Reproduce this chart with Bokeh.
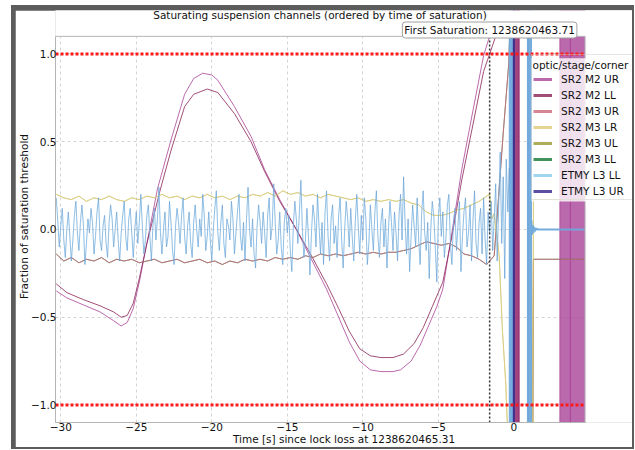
from bokeh.plotting import figure
from bokeh.layouts import column
from bokeh.models import (Range1d, Label, Legend, LegendItem,
                          CustomJSTickFormatter, FixedTicker)
from bokeh.embed import file_html
from bokeh.resources import INLINE

FONT = "DejaVu Sans"
FS = "10.5px"

# ---------------- data ----------------
channels = ["SR2 M2 UR", "SR2 M2 LL", "SR2 M3 UR", "SR2 M3 LR",
            "SR2 M3 UL", "SR2 M3 LL", "ETMY L3 LL", "ETMY L3 UR"]
colors = ["#AA4499", "#882255", "#CC6677", "#DDCC77",
          "#999933", "#117733", "#88CCEE", "#332288"]
legend_title = "optic/stage/corner"

x_ticks = [-30, -25, -20, -15, -10, -5, 0]
y_ticks = [-1.0, -0.5, 0.0, 0.5, 1.0]
thresholds = [-1.0, 1.0]
first_saturation = -1.60
lock_loss_gps = "1238620465.31"
first_sat_gps = "1238620463.71"

# SR2 M2 UR (purple)
m2ur_t = [-30.3, -29.6, -28.5, -27.4, -26.5, -26.0, -25.6, -25.2, -24.8, -24.3,
          -23.6, -22.7, -21.8, -21.2, -20.6, -20.0, -19.6, -18.5, -17.4, -16.5,
          -15.5, -14.4, -13.4, -12.4, -11.6, -10.9, -10.2, -9.5, -8.8, -8.0,
          -7.5, -6.8, -6.2, -5.6, -5.1, -4.7, -4.1, -3.45, -2.7, -2.0, -1.5, -1.0]
m2ur_v = [-0.35, -0.39, -0.43, -0.47, -0.52, -0.55, -0.53, -0.45, -0.30, -0.08,
          0.23, 0.51, 0.77, 0.86, 0.89, 0.88, 0.85, 0.70, 0.53, 0.34,
          0.17, 0.00, -0.17, -0.34, -0.50, -0.64, -0.75, -0.80, -0.81, -0.81,
          -0.80, -0.75, -0.66, -0.54, -0.44, -0.34, -0.02, 0.34, 0.68, 0.99, 1.13, 1.25]
# SR2 M2 LL (wine)
m2ll_t = [-30.3, -29.6, -28.5, -27.4, -26.5, -26.0, -25.6, -25.2, -24.8, -24.3,
          -23.4, -22.7, -21.8, -21.2, -20.3, -19.6, -18.5, -17.4, -16.5, -15.5,
          -14.4, -13.4, -12.4, -11.6, -10.9, -10.2, -9.5, -8.8, -8.0, -7.3,
          -6.6, -6.0, -5.4, -4.7, -4.1, -3.45, -2.7, -2.0, -1.4, -1.0]
m2ll_v = [-0.31, -0.36, -0.40, -0.435, -0.47, -0.50, -0.49, -0.42, -0.28, -0.08,
          0.23, 0.45, 0.70, 0.77, 0.80, 0.78, 0.66, 0.50, 0.33, 0.16,
          0.00, -0.15, -0.31, -0.45, -0.58, -0.68, -0.72, -0.73, -0.73, -0.71,
          -0.65, -0.56, -0.44, -0.30, -0.04, 0.28, 0.60, 0.90, 1.05, 1.15]

# SR2 M3 LR / UL (sand / olive, overlapping) before saturation, every 0.5 s
m3_t0 = -30.3
m3_dt = 0.5
m3_top_pre = [0.20, 0.18, 0.17, 0.19, 0.16, 0.18, 0.17, 0.19, 0.17, 0.16,
              0.18, 0.17, 0.19, 0.18, 0.20, 0.18, 0.19, 0.17, 0.19, 0.18,
              0.20, 0.18, 0.19, 0.17, 0.19, 0.18, 0.20, 0.19, 0.21, 0.19,
              0.22, 0.20, 0.21, 0.19, 0.20, 0.18, 0.20, 0.19, 0.18, 0.17,
              0.18, 0.16, 0.17, 0.16, 0.17, 0.16, 0.17, 0.15, 0.14, 0.10,
              0.08, 0.08, 0.09, 0.11, 0.12, 0.14, 0.16, 0.19]
m3_top_post_t = [-1.6, -1.45, -1.3, -1.1, -0.97, -0.75, -0.53, -0.35, 1.25, 1.3, 4.75]
m3_top_post_v = [0.20, 0.06, 0.09, -0.05, -0.15, -0.58, -0.88, -1.3, -1.3, 0.17, 0.17]

# SR2 M3 UR / LL (rose / green, overlapping) before saturation, every 0.5 s
m3_bot_pre = [-0.14, -0.18, -0.16, -0.19, -0.17, -0.18, -0.16, -0.19, -0.17, -0.18,
              -0.17, -0.19, -0.18, -0.17, -0.19, -0.18, -0.17, -0.19, -0.18, -0.17,
              -0.19, -0.18, -0.20, -0.18, -0.19, -0.17, -0.18, -0.17, -0.18, -0.16,
              -0.17, -0.16, -0.17, -0.15, -0.16, -0.14, -0.15, -0.14, -0.15, -0.14,
              -0.13, -0.14, -0.13, -0.14, -0.13, -0.13, -0.12, -0.11, -0.09, -0.07,
              -0.08, -0.09, -0.08, -0.10, -0.14, -0.15, -0.17, -0.20]
m3_bot_post_t = [-1.6, -1.3, -1.08, -0.7, -0.33, -0.2, 0.95, 0.96, 1.25, 1.3, 4.75]
m3_bot_post_v = [-0.18, -0.15, 0.10, 0.55, 0.95, 1.3, 1.3, -1.3, -1.3, -0.17, -0.17]

# ETMY L3 LL noise before saturation, every 0.1 s from -30.3 s
etmy_t0 = -30.3
etmy_dt = 0.1
etmy_noise = [
    0.18, 0.05, -0.10, 0.02, 0.12, -0.06, -0.16, 0.00, 0.10, -0.04,
    -0.18, -0.06, 0.08, 0.16, -0.02, -0.12, 0.04, 0.14, 0.02, -0.20,
    -0.08, 0.06, -0.02, 0.12, 0.04, -0.14, -0.04, 0.10, 0.18, -0.06,
    -0.12, 0.02, 0.08, -0.08, -0.16, 0.04, 0.14, 0.06, -0.10, 0.00,
    0.10, -0.06, -0.18, -0.02, 0.08, 0.16, -0.04, -0.12, 0.06, 0.12,
    -0.02, -0.16, 0.00, 0.10, -0.08, 0.04, 0.20, 0.02, -0.14, -0.06,
    0.08, 0.14, -0.04, -0.18, 0.02, 0.12, -0.06, 0.06, 0.24, -0.02,
    -0.14, 0.00, 0.10, -0.10, -0.04, 0.16, 0.04, -0.12, -0.20, 0.02,
    0.12, 0.04, -0.08, 0.08, 0.18, -0.04, -0.14, 0.02, 0.10, -0.08,
    -0.16, 0.04, 0.14, 0.00, -0.10, 0.06, -0.04, 0.20, 0.08, -0.12,
    -0.04, 0.10, -0.06, -0.18, 0.00, 0.12, 0.22, -0.02, -0.12, 0.04,
    0.14, -0.08, -0.16, 0.06, 0.02, -0.06, 0.16, 0.06, -0.14, -0.02,
    0.10, 0.20, -0.04, -0.12, 0.04, -0.18, 0.06, 0.24, 0.00, -0.10,
    0.06, -0.14, -0.22, 0.02, 0.14, 0.04, -0.08, 0.10, -0.02, -0.16,
    0.08, 0.18, -0.06, 0.02, 0.26, 0.04, -0.14, -0.06, 0.10, -0.10,
    -0.20, 0.04, 0.12, -0.02, 0.08, -0.12, -0.24, 0.02, 0.16, 0.06,
    -0.08, 0.10, 0.28, 0.00, -0.16, -0.06, 0.12, -0.04, -0.26, -0.02,
    0.14, 0.06, -0.10, 0.20, 0.02, -0.14, 0.04, -0.20, 0.10, 0.22,
    -0.04, -0.18, 0.06, 0.14, -0.08, 0.02, -0.16, 0.08, 0.18, -0.06,
    -0.22, 0.00, 0.16, 0.06, -0.10, 0.12, -0.04, -0.18, 0.04, 0.20,
    0.02, -0.14, 0.08, -0.06, 0.18, 0.06, -0.20, -0.08, 0.14, 0.00,
    -0.12, 0.10, 0.22, -0.04, -0.16, 0.04, 0.12, -0.10, 0.06, -0.22,
    0.00, 0.16, 0.04, -0.12, 0.10, -0.02, -0.18, 0.08, 0.20, -0.06,
    0.30, 0.04, -0.14, 0.06, -0.24, -0.04, 0.14, 0.02, -0.10, 0.18,
    -0.06, -0.20, 0.10, 0.22, -0.02, -0.12, 0.04, -0.28, 0.00, 0.16,
    0.08, -0.10, -0.30, 0.06, 0.18, -0.04, 0.10, -0.16, -0.06, 0.14,
    0.20, -0.08, -0.20, 0.04, 0.12, -0.12, 0.02, 0.16, -0.24, -0.04,
    0.10, 0.18, -0.10, -0.02, 0.14, -0.18, 0.06, 0.22, -0.08, -0.16,
    0.04, 0.12, -0.14, 0.18, -0.06, -0.20, 0.10, -0.02, 0.16, -0.12,
    0.06, 0.26, -0.18, 0.14, 0.44, -0.08, 0.30, -0.28, 0.40, 0.10,
    0.35]
etmy_post_t = [1.17, 1.2, 1.25, 1.3, 1.35, 1.4, 1.5, 1.6, 4.75]
etmy_post_v = [0.05, -0.03, 0.025, -0.02, 0.015, -0.01, 0.005, 0.0, 0.0]

# time spans where saturated channels oscillate beyond full scale
m2ur_band_start = [0.02, 3.05, 3.75]
m2ur_band_end = [0.35, 3.75, 4.75]
m2ll_band_start = [0.02]
m2ll_band_end = [0.35]
etmy_ll_band_start = [-0.30, 0.90]
etmy_ll_band_end = [0.00, 1.17]
etmy_ur_sat_t = [0.0, 0.0]
etmy_ur_sat_v = [-1.5, 1.5]
band_low = -1.5
band_high = 1.5

# ---------------- figure ----------------
X0, X1 = -30.35, 4.72          # visible axes extent
Y0, Y1 = -1.1, 1.1
X_END = 7.86                   # frame continues under the legend overhang
Y_END = 1.2474                 # and under the title / annotation box
FRAME_W, FRAME_H = 577, 414    # frame size in px
LEG_LEFT, LEG_BOTTOM, LEG_H = 476, 222, 144   # legend box, px from frame bottom-left

p = figure(width=617, height=437,
           x_range=Range1d(X0, X_END), y_range=Range1d(Y0, Y_END),
           output_backend="svg", toolbar_location=None,
           min_border_left=37, min_border_right=0,
           min_border_top=0, min_border_bottom=23)
p.margin = (5, 2, 2, 4)
p.background_fill_color = "white"
p.border_fill_color = "white"
p.outline_line_color = None

for ax in (p.xaxis[0], p.yaxis[0]):
    ax.axis_line_color = "#b5b5b5"
    ax.major_tick_line_color = None
    ax.minor_tick_line_color = None
    ax.major_tick_out = 0
    ax.major_tick_in = 0
    ax.minor_tick_out = 0
    ax.minor_tick_in = 0
    ax.major_label_text_font = FONT
    ax.major_label_text_font_size = FS
    ax.major_label_text_color = "#111111"
    ax.axis_label_text_font = FONT
    ax.axis_label_text_font_size = FS
    ax.axis_label_text_font_style = "normal"
    ax.axis_label_text_color = "#111111"
p.xaxis.major_label_standoff = 0
p.xaxis.axis_label_standoff = -1
p.yaxis.major_label_standoff = -1
p.yaxis.axis_label_standoff = -2
p.xaxis.bounds = (X0, X1)
p.yaxis.bounds = (Y0, Y1)

p.xaxis.ticker = FixedTicker(ticks=x_ticks)
p.yaxis.ticker = FixedTicker(ticks=y_ticks)
p.xaxis.formatter = CustomJSTickFormatter(
    code="return (tick < 0 ? '\u2212' : '') + Math.abs(tick).toFixed(0);")
p.yaxis.formatter = CustomJSTickFormatter(
    code="return (tick < 0 ? '\u2212' : '') + Math.abs(tick).toFixed(1);")
p.xaxis.axis_label = "Time [s] since lock loss at " + lock_loss_gps
p.yaxis.axis_label = "Fraction of saturation threshold"

p.xgrid.ticker = FixedTicker(ticks=x_ticks)
p.ygrid.ticker = FixedTicker(ticks=y_ticks)
p.grid.grid_line_color = "#d4d4d4"
p.grid.grid_line_dash = "3 3"
p.grid.grid_line_width = 1

ALPHA = 0.8
LW = 1.0

# SR2 M2 UR
p.line(m2ur_t, m2ur_v, line_color=colors[0], line_alpha=ALPHA, line_width=LW)
p.quad(left=m2ur_band_start, right=m2ur_band_end,
       bottom=[band_low] * len(m2ur_band_start), top=[band_high] * len(m2ur_band_start),
       fill_color=colors[0], fill_alpha=ALPHA, line_color=colors[0], line_alpha=ALPHA)
# SR2 M2 LL
p.line(m2ll_t, m2ll_v, line_color=colors[1], line_alpha=ALPHA, line_width=LW)
p.quad(left=m2ll_band_start, right=m2ll_band_end,
       bottom=[band_low] * len(m2ll_band_start), top=[band_high] * len(m2ll_band_start),
       fill_color=colors[1], fill_alpha=0.5, line_color=colors[1], line_alpha=0.5)

top_t = [m3_t0 + i * m3_dt for i in range(len(m3_top_pre))] + m3_top_post_t
top_v = m3_top_pre + m3_top_post_v
bot_t = [m3_t0 + i * m3_dt for i in range(len(m3_bot_pre))] + m3_bot_post_t
bot_v = m3_bot_pre + m3_bot_post_v

# SR2 M3 LL (green) under SR2 M3 UR (rose)
p.line(bot_t, bot_v, line_color=colors[5], line_alpha=0.6, line_width=LW)
p.line(bot_t, bot_v, line_color=colors[2], line_alpha=0.85, line_width=LW)
# SR2 M3 UL (olive) under LR (sand)
p.line(top_t, top_v, line_color=colors[4], line_alpha=0.35, line_width=LW)
p.line(top_t, top_v, line_color=colors[3], line_alpha=0.9, line_width=LW)

# ETMY L3 LL
etmy_t = [etmy_t0 + i * etmy_dt for i in range(len(etmy_noise))]
p.line(etmy_t, etmy_noise, line_color=colors[6], line_alpha=ALPHA, line_width=LW)
p.quad(left=etmy_ll_band_start, right=etmy_ll_band_end,
       bottom=[band_low] * len(etmy_ll_band_start), top=[band_high] * len(etmy_ll_band_start),
       fill_color="#6fa9dc", fill_alpha=0.95, line_color="#6fa9dc", line_alpha=0.95)
p.line(etmy_post_t, etmy_post_v, line_color="#6fa9dc", line_alpha=0.95, line_width=2)
# ETMY L3 UR (overlapping the LL trace before saturation)
p.line(etmy_t, etmy_noise, line_color=colors[7], line_alpha=0.12, line_width=LW)
p.line(etmy_ur_sat_t, etmy_ur_sat_v, line_color=colors[7], line_alpha=0.9, line_width=2)

# white masks outside the visible axes box, then its top / right spines
p.quad(left=[X1], right=[X_END + 1], bottom=[Y0 - 1], top=[Y_END + 1],
       fill_color="white", line_color=None)
p.quad(left=[X0 - 1], right=[X_END + 1], bottom=[Y1], top=[Y_END + 1],
       fill_color="white", line_color=None)
p.segment(x0=[X0, X1], y0=[Y1, Y0], x1=[X1, X1], y1=[Y1, Y1],
          line_color="#b5b5b5", line_width=1)

# thresholds and first-saturation marker
p.segment(x0=[X0] * len(thresholds), y0=thresholds, x1=[X1] * len(thresholds), y1=thresholds,
          line_color="#ff1a1a", line_width=3, line_dash="3 2")
p.segment(x0=[first_saturation], y0=[Y0], x1=[first_saturation], y1=[Y1],
          line_color="#333333", line_width=1.5, line_dash="2 2")

# translucent legend background (drawn as a glyph so the legend title can sit on it)
sx = FRAME_W / (X_END - X0)
sy = FRAME_H / (Y_END - Y0)
p.quad(left=[X0 + LEG_LEFT / sx], right=[X_END + 1],
       bottom=[Y0 + LEG_BOTTOM / sy], top=[Y0 + (LEG_BOTTOM + LEG_H) / sy],
       fill_color="white", fill_alpha=0.8, line_color=None)

# title (inside the extended frame, above the axes box)
p.add_layout(Label(x=264.5, x_units="screen", y=408, y_units="screen",
                   text="Saturating suspension channels (ordered by time of saturation)",
                   text_align="center", text_baseline="middle",
                   text_font=FONT, text_font_size=FS, text_color="#111111"))

p.add_layout(Label(x=first_saturation, x_units="data", y=392.5, y_units="screen",
                   text="First Saturation: " + first_sat_gps,
                   text_align="center", text_baseline="middle",
                   text_font=FONT, text_font_size=FS, text_color="#111111",
                   background_fill_color="white", background_fill_alpha=1.0,
                   border_line_color="#a0a0a0", border_line_width=1,
                   border_radius=3, padding=2))

# legend: a blank first row holds the legend title, then one row per channel
off_x = [X_END + 2, X_END + 3]
off_y = [0.0, 0.0]
blank = p.line(off_x, off_y, line_color="white", line_alpha=0.0, line_width=3)
items = [LegendItem(label=" ", renderers=[blank])]
for ch, c in zip(channels, colors):
    r = p.line(off_x, off_y, line_color=c, line_alpha=ALPHA, line_width=3)
    items.append(LegendItem(label=ch, renderers=[r]))
legend = Legend(items=items, location=(LEG_LEFT, LEG_BOTTOM),
                label_text_font=FONT, label_text_font_size=FS,
                label_text_color="#111111",
                glyph_width=19, glyph_height=14, label_height=14, label_width=70,
                label_standoff=9, spacing=2, padding=1, margin=0,
                background_fill_alpha=0.0,
                border_line_color="#cccccc", border_line_width=1)
p.add_layout(legend)
p.add_layout(Label(x=LEG_LEFT + 1, x_units="screen", y=LEG_BOTTOM + LEG_H - 8, y_units="screen",
                   text=legend_title, text_align="left", text_baseline="middle",
                   text_font=FONT, text_font_size=FS, text_color="#111111"))

layout = column(p, styles={"background-color": "#5c5c5c"}, margin=(5, 0, 0, 11))
open("out.html", "w").write(file_html(layout, INLINE))
